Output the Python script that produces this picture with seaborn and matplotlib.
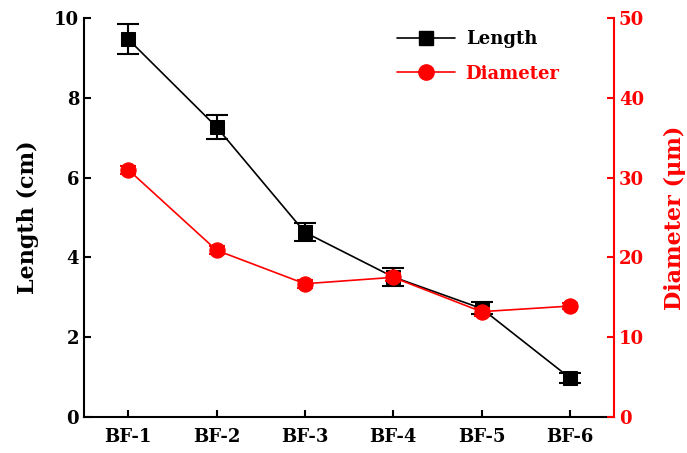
import matplotlib
matplotlib.use("Agg")
import matplotlib.pyplot as plt
import seaborn as sns
import numpy as np
import pandas as pd
from matplotlib.lines import Line2D

categories = ["BF-1", "BF-2", "BF-3", "BF-4", "BF-5", "BF-6"]
length = [9.47, 7.27, 4.63, 3.51, 2.72, 0.98]
length_err = [0.38, 0.31, 0.22, 0.22, 0.15, 0.12]
diameter = [31.0, 20.9, 16.7, 17.5, 13.2, 13.9]
diameter_err = [0.5, 0.5, 0.5, 0.5, 0.5, 0.4]

sns.set_style("white")
plt.rcParams['font.family'] = ['DejaVu Serif']
plt.rcParams['font.weight'] = 'bold'
plt.rcParams['mathtext.default'] = 'regular'

df = pd.DataFrame({"cat": categories, "x": np.arange(len(categories)),
                   "length": length, "diameter": diameter})

fig = plt.figure(figsize=(6.87, 4.53), dpi=100)
ax = fig.add_axes([84/687, 36/453, (614-84)/687, (417-18)/453])
ax2 = ax.twinx()

sns.lineplot(data=df, x="x", y="length", ax=ax, color="black", linewidth=1.2,
             marker="s", markersize=10, markeredgecolor="black", zorder=3)
ax.errorbar(df["x"], df["length"], yerr=length_err, fmt="none", ecolor="black",
            elinewidth=1.5, capsize=8, capthick=1.5, zorder=2)

sns.lineplot(data=df, x="x", y="diameter", ax=ax2, color="red", linewidth=1.2,
             marker="o", markersize=11, markeredgecolor="red", zorder=3)
ax2.errorbar(df["x"], df["diameter"], yerr=diameter_err, fmt="none", ecolor="red",
             elinewidth=1.5, capsize=6, capthick=1.5, zorder=2)

ax.set_xlim(-0.5, 5.5)
ax.set_ylim(0, 10)
ax2.set_ylim(0, 50)
ax.set_xticks(range(len(categories)))
ax.set_xticklabels(categories)
ax.set_yticks([0, 2, 4, 6, 8, 10])
ax2.set_yticks([0, 10, 20, 30, 40, 50])

ax.set_xlabel("")
ax.set_ylabel("Length (cm)", fontsize=16, fontweight="bold", color="black", labelpad=11)
ax2.set_ylabel("Diameter (μm)", fontsize=16, fontweight="bold", color="red", labelpad=14)

for a in (ax, ax2):
    a.spines["top"].set_visible(False)
    for s in a.spines.values():
        s.set_linewidth(1.5)
ax.spines["right"].set_visible(False)
ax2.spines["left"].set_visible(False)
ax2.spines["bottom"].set_visible(False)
ax2.spines["right"].set_color("red")
ax.spines["left"].set_color("black")
ax.spines["bottom"].set_color("black")

ax.tick_params(axis="both", direction="in", length=5, width=1.5, labelsize=13,
               colors="black", left=True, bottom=True)
ax2.tick_params(axis="y", direction="in", length=5, width=1.5, labelsize=13,
                colors="red", right=True)
for lab in ax.get_xticklabels() + ax.get_yticklabels() + ax2.get_yticklabels():
    lab.set_fontweight("bold")
ax.tick_params(axis="x", pad=8)

handles = [Line2D([], [], color="black", marker="s", markersize=10, linewidth=1.2),
           Line2D([], [], color="red", marker="o", markersize=11, linewidth=1.2)]
leg = ax.legend(handles, ["Length", "Diameter"], loc="upper left",
                bbox_to_anchor=(0.56, 1.01), frameon=False,
                prop={"size": 13, "weight": "bold"}, handlelength=3.2,
                labelspacing=0.9, handletextpad=0.6)
for t, c in zip(leg.get_texts(), ["black", "red"]):
    t.set_color(c)

fig.savefig("out.png", dpi=100)
